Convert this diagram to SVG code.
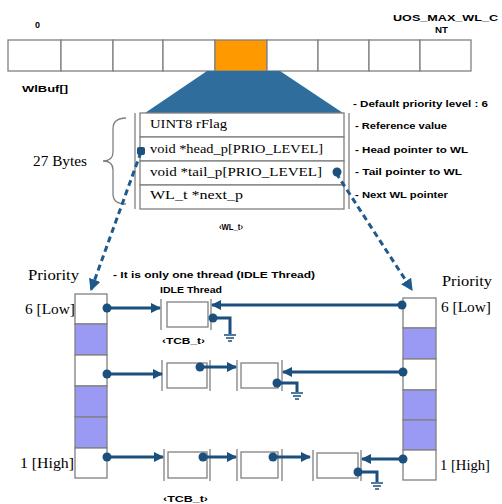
<svg xmlns="http://www.w3.org/2000/svg" width="502" height="504" viewBox="0 0 502 504">
<style>
.cell{fill:#fff;stroke:#808080;stroke-width:1.3}
.pur{fill:#9a9af5;stroke:#808080;stroke-width:1.3}
.ln{stroke:#808080;stroke-width:1.3;fill:none}
.lbl{font-family:"Liberation Sans",Arial,sans-serif;font-weight:bold;font-size:9px;fill:#000}
.ser{font-family:"Liberation Serif","Times New Roman",serif;font-size:14px;fill:#000}
.fld{font-family:"Liberation Serif","Times New Roman",serif;font-size:12px;fill:#000}
.arr{stroke:#1b4f7e;stroke-width:3;fill:none}
.dash{stroke:#1f5a8c;stroke-width:3;fill:none;stroke-dasharray:6 4}
.dot{fill:#1b4f7e}
.gnd{stroke:#1b4f7e;stroke-width:1.5;fill:none}
</style>
<defs>
<marker id="ah" markerUnits="userSpaceOnUse" markerWidth="10" markerHeight="10" viewBox="0 0 10 10" refX="9" refY="5" orient="auto">
<path d="M0,0 L10,5 L0,10 z" fill="#1b4f7e"/>
</marker>
<marker id="ahd" markerUnits="userSpaceOnUse" markerWidth="12" markerHeight="12" viewBox="0 0 10 10" refX="9" refY="5" orient="auto">
<path d="M0,0 L10,5 L0,10 z" fill="#1f5a8c"/>
</marker>
<g id="ground">
<path d="M-6,0 H6 M-4,3 H4 M-2,6 H2" class="gnd"/>
</g>
</defs>

<rect width="502" height="504" fill="#fff"/>

<!-- WlBuf array -->
<g id="wlbuf">
<rect class="cell" x="8" y="40" width="53" height="31"/>
<rect class="cell" x="61" y="40" width="52" height="31"/>
<rect class="cell" x="113" y="40" width="50" height="31"/>
<rect class="cell" x="163" y="40" width="52" height="31"/>
<rect x="215" y="40" width="52" height="31" fill="#ff9900" stroke="#808080" stroke-width="1.3"/>
<rect class="cell" x="267" y="40" width="51" height="31"/>
<rect class="cell" x="318" y="40" width="51" height="31"/>
<rect class="cell" x="369" y="40" width="51" height="31"/>
<rect class="cell" x="420" y="40" width="51" height="31"/>
<text class="lbl" x="35" y="28">0</text>
<text class="lbl" x="393" y="21" textLength="105" lengthAdjust="spacingAndGlyphs">UOS_MAX_WL_C</text>
<text class="lbl" x="435" y="33" textLength="13" lengthAdjust="spacingAndGlyphs">NT</text>
<text class="lbl" x="22" y="92" textLength="46" lengthAdjust="spacingAndGlyphs">WlBuf[]</text>
</g>

<!-- zoom trapezoid -->
<polygon points="207,71 280,71 343,113 145,113" fill="#2f6e9c"/>

<!-- WL_t struct -->
<g id="wl_t">
<rect class="cell" x="140" y="113" width="204" height="24"/>
<rect class="cell" x="140" y="137" width="204" height="24"/>
<rect class="cell" x="140" y="161" width="204" height="24"/>
<rect class="cell" x="140" y="185" width="204" height="24"/>
<line class="ln" x1="135" y1="113" x2="135" y2="209"/>
<line class="ln" x1="349" y1="113" x2="349" y2="209"/>
<text class="fld" x="150" y="128" textLength="77" lengthAdjust="spacingAndGlyphs">UINT8 rFlag</text>
<text class="fld" x="150" y="153" textLength="173" lengthAdjust="spacingAndGlyphs">void *head_p[PRIO_LEVEL]</text>
<text class="fld" x="150" y="176" textLength="172" lengthAdjust="spacingAndGlyphs">void *tail_p[PRIO_LEVEL]</text>
<text class="fld" x="150" y="199" textLength="93" lengthAdjust="spacingAndGlyphs">WL_t *next_p</text>
<text class="lbl" x="219" y="230" font-size="8" textLength="24" lengthAdjust="spacingAndGlyphs">‹WL_t›</text>
</g>

<!-- brace and size -->
<g id="size">
<path d="M126,118 Q113,118 113,129 L113,152 Q113,161 103,161 Q113,161 113,170 L113,194 Q113,204 126,204" class="ln" stroke="#333" stroke-width="1.2"/>
<text class="ser" x="33" y="166" textLength="54" lengthAdjust="spacingAndGlyphs">27 Bytes</text>
</g>

<!-- annotations -->
<g id="notes">
<text class="lbl" x="353" y="107" textLength="135" lengthAdjust="spacingAndGlyphs">- Default priority level : 6</text>
<text class="lbl" x="355" y="129" textLength="92" lengthAdjust="spacingAndGlyphs">- Reference value</text>
<text class="lbl" x="355" y="153" textLength="113" lengthAdjust="spacingAndGlyphs">- Head pointer to WL</text>
<text class="lbl" x="355" y="175" textLength="107" lengthAdjust="spacingAndGlyphs">- Tail pointer to WL</text>
<text class="lbl" x="355" y="198" textLength="93" lengthAdjust="spacingAndGlyphs">- Next WL pointer</text>
<text class="lbl" x="113" y="278" textLength="202" lengthAdjust="spacingAndGlyphs">- It is only one thread (IDLE Thread)</text>
<text class="lbl" x="160" y="293" textLength="62" lengthAdjust="spacingAndGlyphs">IDLE Thread</text>
</g>

<!-- left priority table -->
<g id="prio_left">
<rect class="cell" x="75" y="294" width="32" height="30"/>
<rect class="pur" x="75" y="324" width="32" height="31"/>
<rect class="cell" x="75" y="355" width="32" height="31"/>
<rect class="pur" x="75" y="386" width="32" height="31"/>
<rect class="pur" x="75" y="417" width="32" height="31"/>
<rect class="cell" x="75" y="448" width="32" height="30"/>
<text class="ser" x="28" y="280" textLength="51" lengthAdjust="spacingAndGlyphs">Priority</text>
<text class="ser" x="25" y="314" textLength="50" lengthAdjust="spacingAndGlyphs">6 [Low]</text>
<text class="ser" x="20" y="468" textLength="54" lengthAdjust="spacingAndGlyphs">1 [High]</text>
</g>

<!-- right priority table -->
<g id="prio_right">
<rect class="cell" x="403" y="298" width="33" height="30"/>
<rect class="pur" x="403" y="328" width="33" height="31"/>
<rect class="cell" x="403" y="359" width="33" height="31"/>
<rect class="pur" x="403" y="390" width="33" height="30"/>
<rect class="pur" x="403" y="420" width="33" height="30"/>
<rect class="cell" x="403" y="450" width="33" height="30"/>
<text class="ser" x="442" y="286" textLength="50" lengthAdjust="spacingAndGlyphs">Priority</text>
<text class="ser" x="441" y="312" textLength="50" lengthAdjust="spacingAndGlyphs">6 [Low]</text>
<text class="ser" x="440" y="470" textLength="50" lengthAdjust="spacingAndGlyphs">1 [High]</text>
</g>

<!-- TCBs -->
<g id="tcb_idle">
<rect class="cell" x="167" y="302" width="41" height="25"/>
<line class="ln" x1="161" y1="299" x2="161" y2="330"/>
<line class="ln" x1="211" y1="299" x2="211" y2="330"/>
<text class="lbl" x="162" y="344" font-size="8" textLength="43" lengthAdjust="spacingAndGlyphs">‹TCB_t›</text>
</g>
<g id="tcb_b1">
<rect class="cell" x="167" y="363" width="40" height="25"/>
<line class="ln" x1="162" y1="360" x2="162" y2="391"/>
<line class="ln" x1="210" y1="360" x2="210" y2="391"/>
</g>
<g id="tcb_b2">
<rect class="cell" x="241" y="363" width="37" height="25"/>
<line class="ln" x1="237" y1="360" x2="237" y2="391"/>
<line class="ln" x1="282" y1="360" x2="282" y2="391"/>
</g>
<g id="tcb_c1">
<rect class="cell" x="168" y="452" width="39" height="26"/>
<line class="ln" x1="164" y1="449" x2="164" y2="481"/>
<line class="ln" x1="210" y1="449" x2="210" y2="481"/>
<text class="lbl" x="163" y="502" font-size="8" textLength="45" lengthAdjust="spacingAndGlyphs">‹TCB_t›</text>
</g>
<g id="tcb_c2">
<rect class="cell" x="241" y="452" width="37" height="26"/>
<line class="ln" x1="237" y1="449" x2="237" y2="481"/>
<line class="ln" x1="282" y1="449" x2="282" y2="481"/>
</g>
<g id="tcb_c3">
<rect class="cell" x="317" y="453" width="41" height="25"/>
<line class="ln" x1="313" y1="450" x2="313" y2="481"/>
<line class="ln" x1="361" y1="450" x2="361" y2="481"/>
</g>

<!-- connectors -->
<g id="connectors">
<path class="dash" d="M141,152 L91,290" marker-end="url(#ahd)"/>
<rect x="137" y="147" width="8" height="8" rx="2" class="dot"/>
<path class="dash" d="M336,173 L412,290" marker-end="url(#ahd)"/>
<circle cx="337" cy="172" r="4.5" class="dot"/>

<!-- row 6 -->
<path class="arr" d="M107,308 H160" marker-end="url(#ah)"/>
<circle cx="107" cy="308" r="4.5" class="dot"/>
<path class="arr" d="M402,305 H212" stroke-width="2.5" marker-end="url(#ah)"/>
<circle cx="402" cy="305" r="4.5" class="dot"/>
<path class="arr" d="M213,318 H230 V334" stroke-width="2"/>
<circle cx="213" cy="318" r="4.5" class="dot"/>
<use href="#ground" x="230" y="335"/>

<!-- row 4 -->
<path class="arr" d="M107,374 H162" marker-end="url(#ah)"/>
<circle cx="107" cy="374" r="4.5" class="dot"/>
<path class="arr" d="M200,367 H236" marker-end="url(#ah)"/>
<circle cx="200" cy="367" r="4.5" class="dot"/>
<path class="arr" d="M403,372 H283" stroke-width="2.5" marker-end="url(#ah)"/>
<circle cx="403" cy="372" r="4.5" class="dot"/>
<path class="arr" d="M277,383 H297 V392" stroke-width="2"/>
<circle cx="277" cy="383" r="4.5" class="dot"/>
<use href="#ground" x="297" y="393"/>

<!-- row 1 -->
<path class="arr" d="M107,457 H163" marker-end="url(#ah)"/>
<circle cx="107" cy="457" r="4.5" class="dot"/>
<path class="arr" d="M203,457 H236" marker-end="url(#ah)"/>
<circle cx="203" cy="457" r="4.5" class="dot"/>
<path class="arr" d="M273,457 H310" marker-end="url(#ah)"/>
<circle cx="273" cy="457" r="4.5" class="dot"/>
<path class="arr" d="M403,459 H362" stroke-width="2.5" marker-end="url(#ah)"/>
<circle cx="403" cy="459" r="4.5" class="dot"/>
<path class="arr" d="M358,472 H377 V482" stroke-width="2"/>
<circle cx="358" cy="472" r="4.5" class="dot"/>
<use href="#ground" x="377" y="483"/>
</g>
</svg>
